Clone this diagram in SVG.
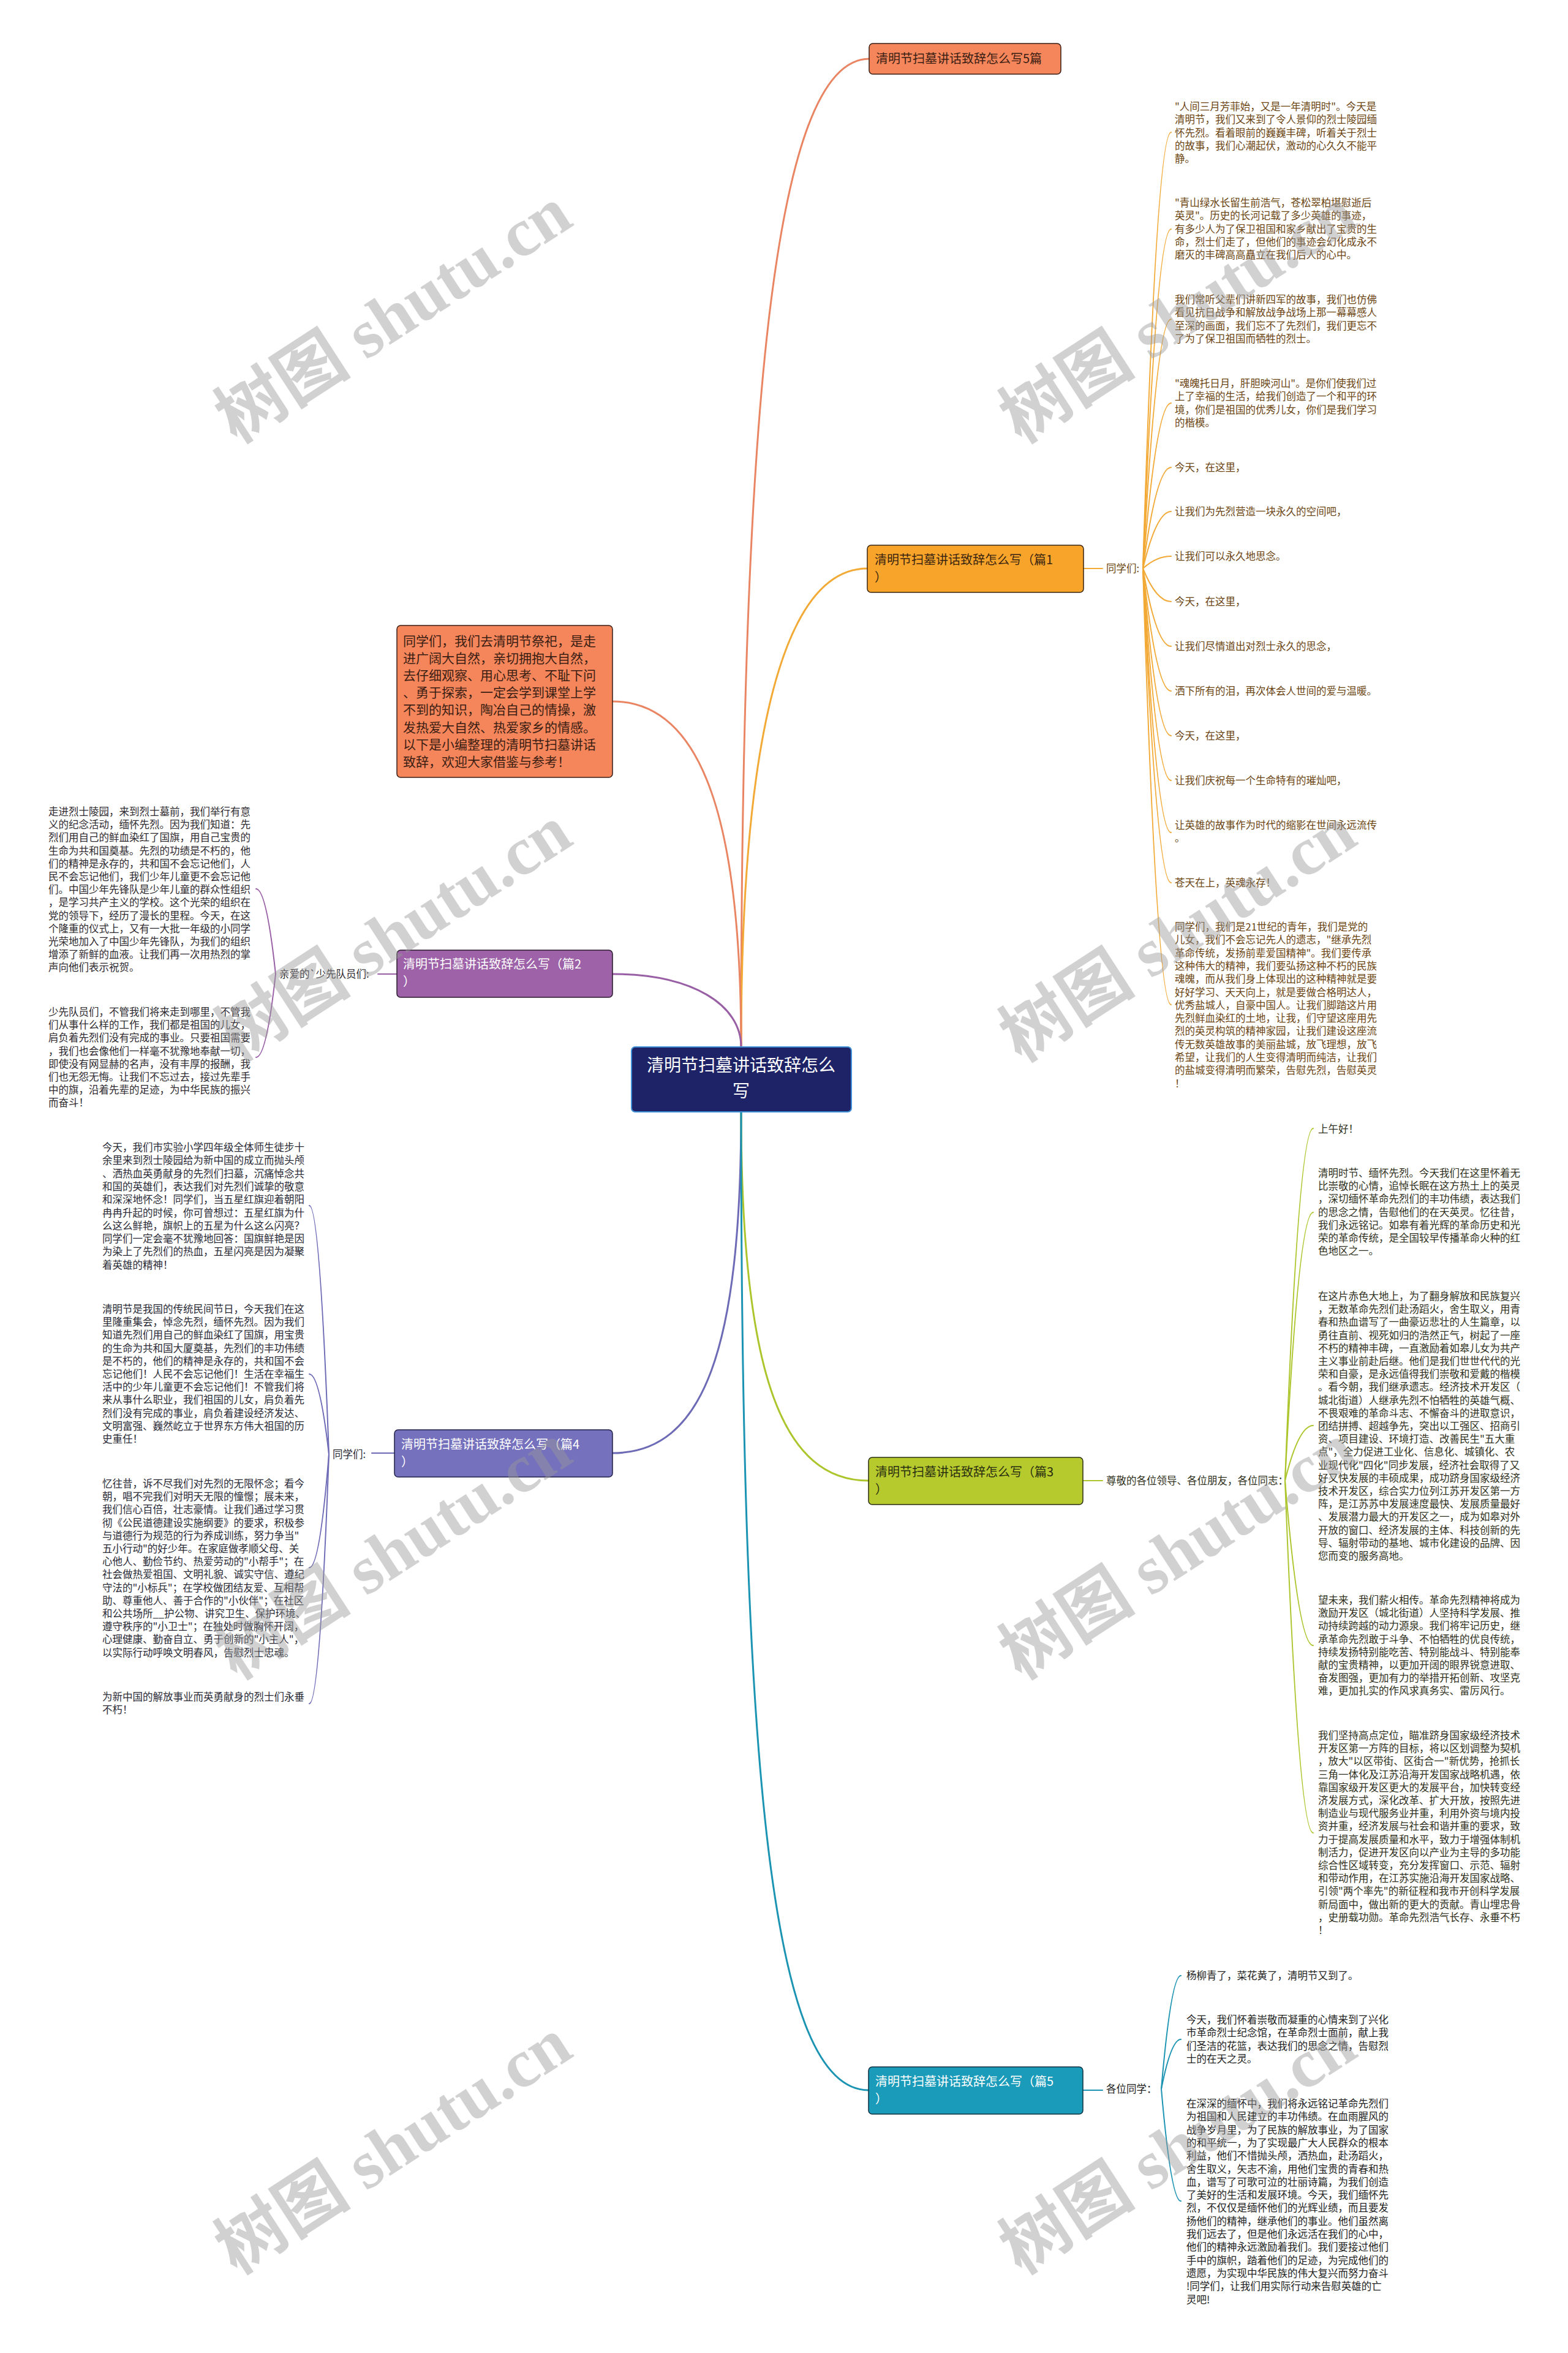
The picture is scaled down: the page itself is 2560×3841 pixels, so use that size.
<svg xmlns="http://www.w3.org/2000/svg" width="2560" height="3841" viewBox="0 0 2560 3841">
<style>
.t{font-family:"Noto Sans CJK SC","Noto Sans",sans-serif;font-size:16.5px}
.nt{font-family:"Noto Sans CJK SC","Noto Sans",sans-serif;font-size:20px}
.b1{fill:#6b4412}.b2{fill:#2e2a30}.b3{fill:#2f3020}.b4{fill:#2a2a36}.b5{fill:#222}
.wm{font-family:"Liberation Serif","Noto Sans CJK SC",serif;font-size:112px;font-weight:bold;fill:#9a9a9a;opacity:.45}
.c{fill:none;stroke-width:3;stroke-linecap:round}
.s{fill:none;stroke-width:2;stroke-linecap:round}
</style>
<rect width="2560" height="3841" fill="#fff"/>
<g id="connectors">
<path class="c" stroke="#E98563" d="M1210,1709 C1210,700 1260,96 1419,96"/>
<path class="c" stroke="#F2A935" d="M1210,1709 C1210,1200 1280,928 1416,928"/>
<path class="c" stroke="#E98563" d="M1210,1709 C1210,1350 1150,1145 1000,1145"/>
<path class="c" stroke="#995FA5" d="M1210,1709 C1210,1640 1130,1590 1000,1590"/>
<path class="c" stroke="#6D6AB6" d="M1210,1814 C1210,2200 1150,2372 1000,2372"/>
<path class="c" stroke="#ADC52C" d="M1210,1814 C1210,2250 1280,2417 1418,2417"/>
<path class="c" stroke="#1B93B2" d="M1210,1814 C1210,2900 1260,3412 1418,3412"/>
<path class="s" stroke="#F2A935" d="M1769,928 L1800,928"/>
<path class="s" stroke="#995FA5" d="M648,1590 L617,1590"/>
<path class="s" stroke="#6D6AB6" d="M644,2372 L607,2372"/>
<path class="s" stroke="#ADC52C" d="M1768,2417 L1800,2417"/>
<path class="s" stroke="#1B93B2" d="M1768,3412 L1800,3412"/>
<g stroke="#F2A935">
<path class="s" d="M1866,928 Q1888,216 1912,216"/>
<path class="s" d="M1866,928 Q1888,374 1912,374"/>
<path class="s" d="M1866,928 Q1888,521 1912,521"/>
<path class="s" d="M1866,928 Q1888,658 1912,658"/>
<path class="s" d="M1866,928 Q1888,763 1912,763"/>
<path class="s" d="M1866,928 Q1888,835 1912,835"/>
<path class="s" d="M1866,928 Q1888,908 1912,908"/>
<path class="s" d="M1866,928 Q1888,982 1912,982"/>
<path class="s" d="M1866,928 Q1888,1055 1912,1055"/>
<path class="s" d="M1866,928 Q1888,1128 1912,1128"/>
<path class="s" d="M1866,928 Q1888,1201 1912,1201"/>
<path class="s" d="M1866,928 Q1888,1274 1912,1274"/>
<path class="s" d="M1866,928 Q1888,1359 1912,1359"/>
<path class="s" d="M1866,928 Q1888,1441 1912,1441"/>
<path class="s" d="M1866,928 Q1888,1640 1912,1640"/>
</g>
<g stroke="#995FA5">
<path class="s" d="M450,1590 Q435,1451 418,1451"/>
<path class="s" d="M450,1590 Q435,1726 418,1726"/>
</g>
<g stroke="#6D6AB6">
<path class="s" d="M537,2374 Q522,1968 505,1968"/>
<path class="s" d="M537,2374 Q522,2243 505,2243"/>
<path class="s" d="M537,2374 Q522,2559 505,2559"/>
<path class="s" d="M537,2374 Q522,2781 505,2781"/>
</g>
<g stroke="#ADC52C">
<path class="s" d="M2098,2417 Q2120,1842 2144,1842"/>
<path class="s" d="M2098,2417 Q2120,1979 2144,1979"/>
<path class="s" d="M2098,2417 Q2120,2327 2144,2327"/>
<path class="s" d="M2098,2417 Q2120,2686 2144,2686"/>
<path class="s" d="M2098,2417 Q2120,2992 2144,2992"/>
</g>
<g stroke="#1B93B2">
<path class="s" d="M1896,3410 Q1912,3225 1928,3225"/>
<path class="s" d="M1896,3410 Q1912,3329 1928,3329"/>
<path class="s" d="M1896,3410 Q1912,3593 1928,3593"/>
</g>
</g>
<g id="center">
<rect x="1031" y="1709" width="359" height="106" rx="6" fill="#1d2366" stroke="#3f8fd6" stroke-width="2"/>
<text x="1210" y="1749" text-anchor="middle" fill="#fff" font-family="Noto Sans CJK SC, sans-serif" font-size="28">清明节扫墓讲话致辞怎么</text>
<text x="1210" y="1791" text-anchor="middle" fill="#fff" font-family="Noto Sans CJK SC, sans-serif" font-size="28">写</text>
</g>
<g id="n_title">
<rect x="1419" y="71" width="313" height="50" rx="6" fill="#F5855A" stroke="#3a1e14" stroke-width="1.5"/>
<text class="nt" x="1430" y="103" fill="#3a1e14">清明节扫墓讲话致辞怎么写5篇</text>
</g>
<g id="n_intro">
<rect x="648" y="1021" width="352" height="248" rx="6" fill="#F5855A" stroke="#3a1e14" stroke-width="1.5"/>
<text x="658" y="1054" fill="#3a1e14" font-family="Noto Sans CJK SC, sans-serif" font-size="21"><tspan x="658">同学们，我们去清明节祭祀，是走</tspan><tspan x="658" dy="28.1">进广阔大自然，亲切拥抱大自然，</tspan><tspan x="658" dy="28.1">去仔细观察、用心思考、不耻下问</tspan><tspan x="658" dy="28.1">、勇于探索，一定会学到课堂上学</tspan><tspan x="658" dy="28.1">不到的知识，陶冶自己的情操，激</tspan><tspan x="658" dy="28.1">发热爱大自然、热爱家乡的情感。</tspan><tspan x="658" dy="28.1">以下是小编整理的清明节扫墓讲话</tspan><tspan x="658" dy="28.1">致辞，欢迎大家借鉴与参考！</tspan></text>
</g>
<g id="n_p1">
<rect x="1416" y="890" width="353" height="77" rx="6" fill="#F8A42A" stroke="#3a2510" stroke-width="1.5"/>
<text class="nt" x="1428" y="921" fill="#3a2510"><tspan x="1428">清明节扫墓讲话致辞怎么写（篇1</tspan><tspan x="1428" dy="28">）</tspan></text>
</g>
<g id="n_p2">
<rect x="648" y="1551" width="352" height="77" rx="6" fill="#9D62A8" stroke="#2a1a2e" stroke-width="1.5"/>
<text class="nt" x="658" y="1581" fill="#fff"><tspan x="658">清明节扫墓讲话致辞怎么写（篇2</tspan><tspan x="658" dy="28">）</tspan></text>
</g>
<g id="n_p3">
<rect x="1418" y="2379" width="350" height="77" rx="6" fill="#B6CA2D" stroke="#2a2e10" stroke-width="1.5"/>
<text class="nt" x="1429" y="2410" fill="#2a2e10"><tspan x="1429">清明节扫墓讲话致辞怎么写（篇3</tspan><tspan x="1429" dy="28">）</tspan></text>
</g>
<g id="n_p4">
<rect x="644" y="2334" width="356" height="77" rx="6" fill="#7571BD" stroke="#23214a" stroke-width="1.5"/>
<text class="nt" x="655" y="2365" fill="#fff"><tspan x="655">清明节扫墓讲话致辞怎么写（篇4</tspan><tspan x="655" dy="28">）</tspan></text>
</g>
<g id="n_p5">
<rect x="1418" y="3374" width="350" height="77" rx="6" fill="#1A9BBA" stroke="#0e3340" stroke-width="1.5"/>
<text class="nt" x="1429" y="3405" fill="#fff"><tspan x="1429">清明节扫墓讲话致辞怎么写（篇5</tspan><tspan x="1429" dy="28">）</tspan></text>
</g>
<g id="labels">
<text class="t b1" x="1806" y="934">同学们:</text>
<text class="t b2" x="456" y="1596">亲爱的`少先队员们:</text>
<text class="t b4" x="543" y="2380">同学们:</text>
<text class="t b3" x="1806" y="2423">尊敬的各位领导、各位朋友，各位同志：</text>
<text class="t b5" x="1806" y="3416">各位同学：</text>
</g>
<g id="p1_children">
<text class="t b1" y="180"><tspan x="1918">"人间三月芳菲始，又是一年清明时"。今天是</tspan><tspan x="1918" dy="21.3">清明节，我们又来到了令人景仰的烈士陵园缅</tspan><tspan x="1918" dy="21.3">怀先烈。看着眼前的巍巍丰碑，听着关于烈士</tspan><tspan x="1918" dy="21.3">的故事，我们心潮起伏，激动的心久久不能平</tspan><tspan x="1918" dy="21.3">静。</tspan></text>
<text class="t b1" y="337"><tspan x="1918">"青山绿水长留生前浩气，苍松翠柏堪慰逝后</tspan><tspan x="1918" dy="21.3">英灵"。历史的长河记载了多少英雄的事迹，</tspan><tspan x="1918" dy="21.3">有多少人为了保卫祖国和家乡献出了宝贵的生</tspan><tspan x="1918" dy="21.3">命，烈士们走了，但他们的事迹会幻化成永不</tspan><tspan x="1918" dy="21.3">磨灭的丰碑高高矗立在我们后人的心中。</tspan></text>
<text class="t b1" y="495"><tspan x="1918">我们常听父辈们讲新四军的故事，我们也仿佛</tspan><tspan x="1918" dy="21.3">看见抗日战争和解放战争战场上那一幕幕感人</tspan><tspan x="1918" dy="21.3">至深的画面，我们忘不了先烈们，我们更忘不</tspan><tspan x="1918" dy="21.3">了为了保卫祖国而牺牲的烈士。</tspan></text>
<text class="t b1" y="632"><tspan x="1918">"魂魄托日月，肝胆映河山"。是你们使我们过</tspan><tspan x="1918" dy="21.3">上了幸福的生活，给我们创造了一个和平的环</tspan><tspan x="1918" dy="21.3">境，你们是祖国的优秀儿女，你们是我们学习</tspan><tspan x="1918" dy="21.3">的楷模。</tspan></text>
<text class="t b1" x="1918" y="769">今天，在这里，</text>
<text class="t b1" x="1918" y="841">让我们为先烈营造一块永久的空间吧，</text>
<text class="t b1" x="1918" y="914">让我们可以永久地思念。</text>
<text class="t b1" x="1918" y="988">今天，在这里，</text>
<text class="t b1" x="1918" y="1061">让我们尽情道出对烈士永久的思念，</text>
<text class="t b1" x="1918" y="1134">洒下所有的泪，再次体会人世间的爱与温暖。</text>
<text class="t b1" x="1918" y="1207">今天，在这里，</text>
<text class="t b1" x="1918" y="1280">让我们庆祝每一个生命特有的璀灿吧，</text>
<text class="t b1" y="1353"><tspan x="1918">让英雄的故事作为时代的缩影在世间永远流传</tspan><tspan x="1918" dy="21.3">。</tspan></text>
<text class="t b1" x="1918" y="1447">苍天在上，英魂永存！</text>
<text class="t b1" y="1519"><tspan x="1918">同学们，我们是21世纪的青年，我们是党的</tspan><tspan x="1918" dy="21.3">儿女，我们不会忘记先人的遗志，"继承先烈</tspan><tspan x="1918" dy="21.3">革命传统，发扬前辈爱国精神"。我们要传承</tspan><tspan x="1918" dy="21.3">这种伟大的精神，我们要弘扬这种不朽的民族</tspan><tspan x="1918" dy="21.3">魂魄，而从我们身上体现出的这种精神就是要</tspan><tspan x="1918" dy="21.3">好好学习、天天向上，就是要做合格明达人，</tspan><tspan x="1918" dy="21.3">优秀盐城人，自豪中国人。让我们脚踏这片用</tspan><tspan x="1918" dy="21.3">先烈鲜血染红的土地，让我，们守望这座用先</tspan><tspan x="1918" dy="21.3">烈的英灵构筑的精神家园，让我们建设这座流</tspan><tspan x="1918" dy="21.3">传无数英雄故事的美丽盐城，放飞理想，放飞</tspan><tspan x="1918" dy="21.3">希望，让我们的人生变得清明而纯洁，让我们</tspan><tspan x="1918" dy="21.3">的盐城变得清明而繁荣，告慰先烈，告慰英灵</tspan><tspan x="1918" dy="21.3">！</tspan></text>
</g>
<g id="p2_children">
<text class="t b2" y="1331"><tspan x="79">走进烈士陵园，来到烈士墓前，我们举行有意</tspan><tspan x="79" dy="21.2">义的纪念活动，缅怀先烈。因为我们知道：先</tspan><tspan x="79" dy="21.2">烈们用自己的鲜血染红了国旗，用自己宝贵的</tspan><tspan x="79" dy="21.2">生命为共和国奠基。先烈的功绩是不朽的，他</tspan><tspan x="79" dy="21.2">们的精神是永存的，共和国不会忘记他们，人</tspan><tspan x="79" dy="21.2">民不会忘记他们，我们少年儿童更不会忘记他</tspan><tspan x="79" dy="21.2">们。中国少年先锋队是少年儿童的群众性组织</tspan><tspan x="79" dy="21.2">，是学习共产主义的学校。这个光荣的组织在</tspan><tspan x="79" dy="21.2">党的领导下，经历了漫长的里程。今天，在这</tspan><tspan x="79" dy="21.2">个隆重的仪式上，又有一大批一年级的小同学</tspan><tspan x="79" dy="21.2">光荣地加入了中国少年先锋队，为我们的组织</tspan><tspan x="79" dy="21.2">增添了新鲜的血液。让我们再一次用热烈的掌</tspan><tspan x="79" dy="21.2">声向他们表示祝贺。</tspan></text>
<text class="t b2" y="1658"><tspan x="79">少先队员们，不管我们将来走到哪里，不管我</tspan><tspan x="79" dy="21.2">们从事什么样的工作，我们都是祖国的儿女，</tspan><tspan x="79" dy="21.2">肩负着先烈们没有完成的事业。只要祖国需要</tspan><tspan x="79" dy="21.2">，我们也会像他们一样毫不犹豫地奉献一切，</tspan><tspan x="79" dy="21.2">即使没有网显赫的名声，没有丰厚的报酬，我</tspan><tspan x="79" dy="21.2">们也无怨无悔。让我们不忘过去，接过先辈手</tspan><tspan x="79" dy="21.2">中的旗，沿着先辈的足迹，为中华民族的振兴</tspan><tspan x="79" dy="21.2">而奋斗！</tspan></text>
</g>
<g id="p4_children">
<text class="t b4" y="1879"><tspan x="167">今天，我们市实验小学四年级全体师生徒步十</tspan><tspan x="167" dy="21.3">余里来到烈士陵园给为新中国的成立而抛头颅</tspan><tspan x="167" dy="21.3">、洒热血英勇献身的先烈们扫墓，沉痛悼念共</tspan><tspan x="167" dy="21.3">和国的英雄们，表达我们对先烈们诚挚的敬意</tspan><tspan x="167" dy="21.3">和深深地怀念！同学们，当五星红旗迎着朝阳</tspan><tspan x="167" dy="21.3">冉冉升起的时候，你可曾想过：五星红旗为什</tspan><tspan x="167" dy="21.3">么这么鲜艳，旗帜上的五星为什么这么闪亮？</tspan><tspan x="167" dy="21.3">同学们一定会毫不犹豫地回答：国旗鲜艳是因</tspan><tspan x="167" dy="21.3">为染上了先烈们的热血，五星闪亮是因为凝聚</tspan><tspan x="167" dy="21.3">着英雄的精神！</tspan></text>
<text class="t b4" y="2143"><tspan x="167">清明节是我国的传统民间节日，今天我们在这</tspan><tspan x="167" dy="21.2">里隆重集会，悼念先烈，缅怀先烈。因为我们</tspan><tspan x="167" dy="21.2">知道先烈们用自己的鲜血染红了国旗，用宝贵</tspan><tspan x="167" dy="21.2">的生命为共和国大厦奠基，先烈们的丰功伟绩</tspan><tspan x="167" dy="21.2">是不朽的，他们的精神是永存的，共和国不会</tspan><tspan x="167" dy="21.2">忘记他们！人民不会忘记他们！生活在幸福生</tspan><tspan x="167" dy="21.2">活中的少年儿童更不会忘记他们！不管我们将</tspan><tspan x="167" dy="21.2">来从事什么职业，我们祖国的儿女，肩负着先</tspan><tspan x="167" dy="21.2">烈们没有完成的事业，肩负着建设经济发达、</tspan><tspan x="167" dy="21.2">文明富强、巍然屹立于世界东方伟大祖国的历</tspan><tspan x="167" dy="21.2">史重任！</tspan></text>
<text class="t b4" y="2428"><tspan x="167">忆往昔，诉不尽我们对先烈的无限怀念；看今</tspan><tspan x="167" dy="21.2">朝，唱不完我们对明天无限的憧憬；展未来，</tspan><tspan x="167" dy="21.2">我们信心百倍，壮志豪情。让我们通过学习贯</tspan><tspan x="167" dy="21.2">彻《公民道德建设实施纲要》的要求，积极参</tspan><tspan x="167" dy="21.2">与道德行为规范的行为养成训练，努力争当"</tspan><tspan x="167" dy="21.2">五小行动"的好少年。在家庭做孝顺父母、关</tspan><tspan x="167" dy="21.2">心他人、勤俭节约、热爱劳动的"小帮手"；在</tspan><tspan x="167" dy="21.2">社会做热爱祖国、文明礼貌、诚实守信、遵纪</tspan><tspan x="167" dy="21.2">守法的"小标兵"；在学校做团结友爱、互相帮</tspan><tspan x="167" dy="21.2">助、尊重他人、善于合作的"小伙伴"；在社区</tspan><tspan x="167" dy="21.2">和公共场所__护公物、讲究卫生、保护环境、</tspan><tspan x="167" dy="21.2">遵守秩序的"小卫士"；在独处时做胸怀开阔，</tspan><tspan x="167" dy="21.2">心理健康、勤奋自立、勇于创新的"小主人"，</tspan><tspan x="167" dy="21.2">以实际行动呼唤文明春风，告慰烈士忠魂。</tspan></text>
<text class="t b4" y="2776"><tspan x="167">为新中国的解放事业而英勇献身的烈士们永垂</tspan><tspan x="167" dy="21.3">不朽！</tspan></text>
</g>
<g id="p3_children">
<text class="t b3" x="2152" y="1849">上午好！</text>
<text class="t b3" y="1921"><tspan x="2152">清明时节、缅怀先烈。今天我们在这里怀着无</tspan><tspan x="2152" dy="21.2">比崇敬的心情，追悼长眠在这方热土上的英灵</tspan><tspan x="2152" dy="21.2">，深切缅怀革命先烈们的丰功伟绩，表达我们</tspan><tspan x="2152" dy="21.2">的思念之情，告慰他们的在天英灵。忆往昔，</tspan><tspan x="2152" dy="21.2">我们永远铭记。如皋有着光辉的革命历史和光</tspan><tspan x="2152" dy="21.2">荣的革命传统，是全国较早传播革命火种的红</tspan><tspan x="2152" dy="21.2">色地区之一。</tspan></text>
<text class="t b3" y="2122"><tspan x="2152">在这片赤色大地上，为了翻身解放和民族复兴</tspan><tspan x="2152" dy="21.2">，无数革命先烈们赴汤蹈火，舍生取义，用青</tspan><tspan x="2152" dy="21.2">春和热血谱写了一曲豪迈悲壮的人生篇章，以</tspan><tspan x="2152" dy="21.2">勇往直前、视死如归的浩然正气，树起了一座</tspan><tspan x="2152" dy="21.2">不朽的精神丰碑，一直激励着如皋儿女为共产</tspan><tspan x="2152" dy="21.2">主义事业前赴后继。他们是我们世世代代的光</tspan><tspan x="2152" dy="21.2">荣和自豪，是永远值得我们崇敬和爱戴的楷模</tspan><tspan x="2152" dy="21.2">。看今朝，我们继承遗志。经济技术开发区（</tspan><tspan x="2152" dy="21.2">城北街道）人继承先烈不怕牺牲的英雄气概、</tspan><tspan x="2152" dy="21.2">不畏艰难的革命斗志、不懈奋斗的进取意识，</tspan><tspan x="2152" dy="21.2">团结拼搏、超越争先，突出以工强区、招商引</tspan><tspan x="2152" dy="21.2">资、项目建设、环境打造、改善民生"五大重</tspan><tspan x="2152" dy="21.2">点"，全力促进工业化、信息化、城镇化、农</tspan><tspan x="2152" dy="21.2">业现代化"四化"同步发展，经济社会取得了又</tspan><tspan x="2152" dy="21.2">好又快发展的丰硕成果，成功跻身国家级经济</tspan><tspan x="2152" dy="21.2">技术开发区，综合实力位列江苏开发区第一方</tspan><tspan x="2152" dy="21.2">阵，是江苏苏中发展速度最快、发展质量最好</tspan><tspan x="2152" dy="21.2">、发展潜力最大的开发区之一，成为如皋对外</tspan><tspan x="2152" dy="21.2">开放的窗口、经济发展的主体、科技创新的先</tspan><tspan x="2152" dy="21.2">导、辐射带动的基地、城市化建设的品牌、因</tspan><tspan x="2152" dy="21.2">您而变的服务高地。</tspan></text>
<text class="t b3" y="2618"><tspan x="2152">望未来，我们薪火相传。革命先烈精神将成为</tspan><tspan x="2152" dy="21.2">激励开发区（城北街道）人坚持科学发展、推</tspan><tspan x="2152" dy="21.2">动持续跨越的动力源泉。我们将牢记历史，继</tspan><tspan x="2152" dy="21.2">承革命先烈敢于斗争、不怕牺牲的优良传统，</tspan><tspan x="2152" dy="21.2">持续发扬特别能吃苦、特别能战斗、特别能奉</tspan><tspan x="2152" dy="21.2">献的宝贵精神，以更加开阔的眼界锐意进取、</tspan><tspan x="2152" dy="21.2">奋发图强，更加有力的举措开拓创新、攻坚克</tspan><tspan x="2152" dy="21.2">难，更加扎实的作风求真务实、雷厉风行。</tspan></text>
<text class="t b3" y="2839"><tspan x="2152">我们坚持高点定位，瞄准跻身国家级经济技术</tspan><tspan x="2152" dy="21.2">开发区第一方阵的目标，将以区划调整为契机</tspan><tspan x="2152" dy="21.2">，放大"以区带街、区街合一"新优势，抢抓长</tspan><tspan x="2152" dy="21.2">三角一体化及江苏沿海开发国家战略机遇，依</tspan><tspan x="2152" dy="21.2">靠国家级开发区更大的发展平台，加快转变经</tspan><tspan x="2152" dy="21.2">济发展方式，深化改革、扩大开放，按照先进</tspan><tspan x="2152" dy="21.2">制造业与现代服务业并重，利用外资与境内投</tspan><tspan x="2152" dy="21.2">资并重，经济发展与社会和谐并重的要求，致</tspan><tspan x="2152" dy="21.2">力于提高发展质量和水平，致力于增强体制机</tspan><tspan x="2152" dy="21.2">制活力，促进开发区向以产业为主导的多功能</tspan><tspan x="2152" dy="21.2">综合性区域转变，充分发挥窗口、示范、辐射</tspan><tspan x="2152" dy="21.2">和带动作用，在江苏实施沿海开发国家战略、</tspan><tspan x="2152" dy="21.2">引领"两个率先"的新征程和我市开创科学发展</tspan><tspan x="2152" dy="21.2">新局面中，做出新的更大的贡献。青山埋忠骨</tspan><tspan x="2152" dy="21.2">，史册载功勋。革命先烈浩气长存、永垂不朽</tspan><tspan x="2152" dy="21.2">！</tspan></text>
</g>
<g id="p5_children">
<text class="t b5" x="1937" y="3231">杨柳青了，菜花黄了，清明节又到了。</text>
<text class="t b5" y="3303"><tspan x="1937">今天，我们怀着崇敬而凝重的心情来到了兴化</tspan><tspan x="1937" dy="21.3">市革命烈士纪念馆，在革命烈士面前，献上我</tspan><tspan x="1937" dy="21.3">们圣洁的花篮，表达我们的思念之情，告慰烈</tspan><tspan x="1937" dy="21.3">士的在天之灵。</tspan></text>
<text class="t b5" y="3440"><tspan x="1937">在深深的缅怀中，我们将永远铭记革命先烈们</tspan><tspan x="1937" dy="21.3">为祖国和人民建立的丰功伟绩。在血雨腥风的</tspan><tspan x="1937" dy="21.3">战争岁月里，为了民族的解放事业，为了国家</tspan><tspan x="1937" dy="21.3">的和平统一，为了实现最广大人民群众的根本</tspan><tspan x="1937" dy="21.3">利益，他们不惜抛头颅，洒热血，赴汤蹈火，</tspan><tspan x="1937" dy="21.3">舍生取义，矢志不渝，用他们宝贵的青春和热</tspan><tspan x="1937" dy="21.3">血，谱写了可歌可泣的壮丽诗篇，为我们创造</tspan><tspan x="1937" dy="21.3">了美好的生活和发展环境。今天，我们缅怀先</tspan><tspan x="1937" dy="21.3">烈，不仅仅是缅怀他们的光辉业绩，而且要发</tspan><tspan x="1937" dy="21.3">扬他们的精神，继承他们的事业。他们虽然离</tspan><tspan x="1937" dy="21.3">我们远去了，但是他们永远活在我们的心中，</tspan><tspan x="1937" dy="21.3">他们的精神永远激励着我们。我们要接过他们</tspan><tspan x="1937" dy="21.3">手中的旗帜，踏着他们的足迹，为完成他们的</tspan><tspan x="1937" dy="21.3">遗愿，为实现中华民族的伟大复兴而努力奋斗</tspan><tspan x="1937" dy="21.3">!同学们，让我们用实际行动来告慰英雄的亡</tspan><tspan x="1937" dy="21.3">灵吧!</tspan></text>
</g>
<g id="watermarks">
<text class="wm" text-anchor="middle" dominant-baseline="central" transform="translate(642,514) rotate(-33)">树图 shutu.cn</text>
<text class="wm" text-anchor="middle" dominant-baseline="central" transform="translate(1923,514) rotate(-33)">树图 shutu.cn</text>
<text class="wm" text-anchor="middle" dominant-baseline="central" transform="translate(642,1524) rotate(-33)">树图 shutu.cn</text>
<text class="wm" text-anchor="middle" dominant-baseline="central" transform="translate(1923,1524) rotate(-33)">树图 shutu.cn</text>
<text class="wm" text-anchor="middle" dominant-baseline="central" transform="translate(642,2532) rotate(-33)">树图 shutu.cn</text>
<text class="wm" text-anchor="middle" dominant-baseline="central" transform="translate(1923,2532) rotate(-33)">树图 shutu.cn</text>
<text class="wm" text-anchor="middle" dominant-baseline="central" transform="translate(642,3503) rotate(-33)">树图 shutu.cn</text>
<text class="wm" text-anchor="middle" dominant-baseline="central" transform="translate(1923,3503) rotate(-33)">树图 shutu.cn</text>
</g>
</svg>
